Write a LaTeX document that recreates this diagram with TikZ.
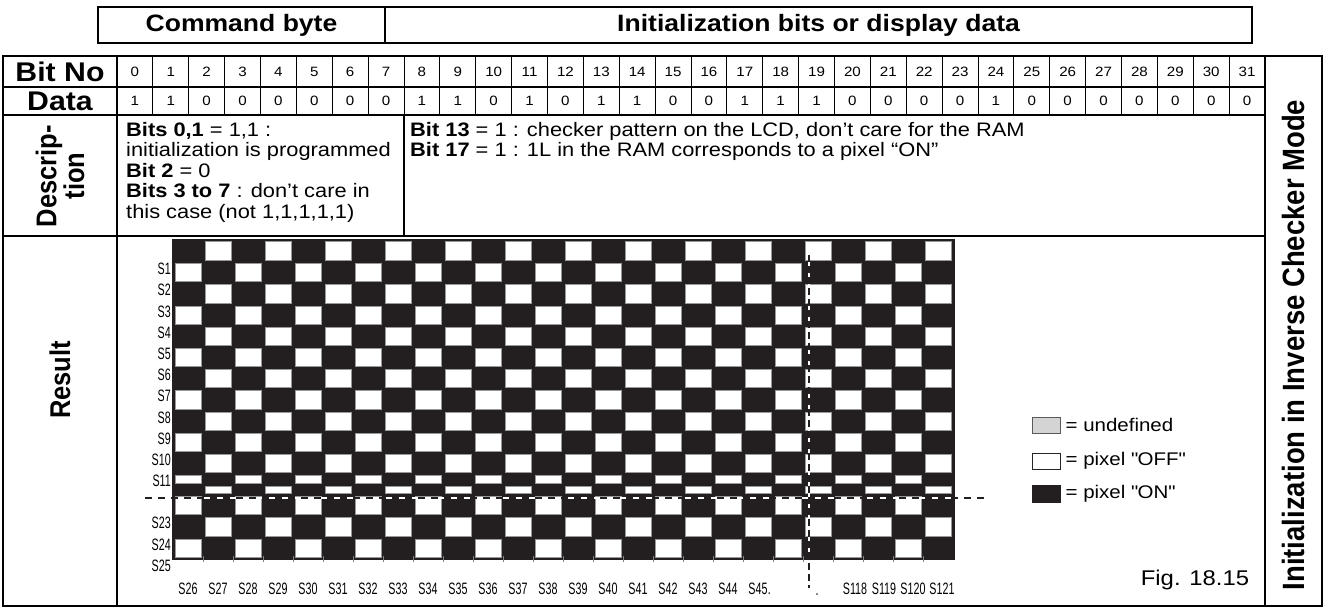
\documentclass[tikz,border=0pt]{standalone}
\usepackage{fontspec}
\setmainfont[FakeStretch=1.12]{Liberation Sans}
\newfontfamily\sidefont{Liberation Sans}
\newfontfamily\pinfont[FakeStretch=0.65]{Liberation Sans}
\usetikzlibrary{positioning}
\definecolor{pixon}{HTML}{231F20}
\definecolor{undefgray}{HTML}{D4D4D4}

\begin{document}
\begin{tikzpicture}[
        x=1pt, y=-1pt,
        thick rule/.style={line width=2.6pt},
        headbox/.style={rectangle, draw, line width=2.6pt, outer sep=0pt, minimum height=36pt, font=\fontsize{23.7}{26}\selectfont\bfseries},
        bitcell/.style={rectangle, draw, line width=0.9pt, outer sep=0pt, minimum width=35.875pt, inner sep=0pt, font=\fontsize{13.5}{14}\selectfont},
        rowhead/.style={inner sep=0pt, font=\fontsize{27}{30}\selectfont\bfseries},
        sidehead/.style={rotate=90, transform shape, align=center, inner sep=0pt, font=\sidefont\fontsize{25.5}{22}\selectfont\bfseries},
        desc/.style={anchor=north west, align=left, inner sep=0pt, font=\fontsize{19.5}{20.5}\selectfont},
        pinlabel/.style={inner sep=0pt, font=\pinfont\fontsize{16.5}{17}\selectfont},
        offpix/.style={fill=white, draw=gray!80, line width=0.6pt},
        legbox/.style={rectangle, minimum width=28pt, minimum height=16pt, inner sep=0pt, line width=0.8pt},
        legtext/.style={anchor=west, inner sep=0pt, font=\fontsize{18.3}{20}\selectfont}
      ]

      \useasboundingbox (0,0) rectangle (1327,608);

      \node[headbox, minimum width=287pt] (cmdbyte) at (241.5,25) {Command byte};
      \node[headbox, minimum width=867pt, right=0pt of cmdbyte] (initbits) {Initialization bits or display data};

      \foreach \v [count=\n from 0] in {1,1,0,0,0,0,0,0,1,1,0,1,0,1,1,0,0,1,1,1,0,0,0,0,1,0,0,0,0,0,0,0} {
        \node[bitcell, minimum height=31pt] (no\n) at ({117+35.875*(\n+0.5)},71.5) {\n};
        \node[bitcell, minimum height=28pt] (data\n) at ({117+35.875*(\n+0.5)},101) {\v};
      }

      \draw[thick rule] (3,56) rectangle (1322,606);
      \draw[line width=2pt] (3,87) -- (no31.south east);
      \draw[thick rule] (3,115) -- (data31.south east);
      \draw[thick rule] (3,236) -- (1265,236);
      \draw[thick rule] (117,56) -- (117,606);
      \draw[thick rule] (1265,56) -- (1265,606);
      \draw[line width=1.5pt] (data7.south east) -- (404,236);

      \node[rowhead] (bitno) at (60,71.5) {Bit No};
      \node[rowhead] (datahd) at (60,101) {Data};

      \begin{scope}[shift={(60,176)}, xscale=1.12]
        \node[sidehead] (descrip) at (0,0) {Descrip-\\tion};
      \end{scope}
      \begin{scope}[shift={(60,380)}, xscale=1.12]
        \node[sidehead] (result) at (0,0) {Result};
      \end{scope}
      \begin{scope}[shift={(1293.5,345)}, xscale=1.12]
        \node[sidehead, font=\sidefont\fontsize{27.5}{28}\selectfont\bfseries] (mode) at (0,0) {Initialization in Inverse Checker Mode};
      \end{scope}

      \node[desc] (desclow) at (126,122) {\textbf{Bits 0,1} = 1,1 :\\initialization is programmed\\\textbf{Bit 2} = 0\\\textbf{Bits 3 to 7} : don't care in\\this case (not 1,1,1,1,1)};
      \node[desc] (deschigh) at (410,122) {\textbf{Bit 13} = 1 : checker pattern on the LCD, don't care for the RAM\\\textbf{Bit 17} = 1 : 1L in the RAM corresponds to a pixel “ON”};

      \fill[pixon] (172,238.5) rectangle (955,560);
      \foreach \ri/\rtop/\rbot in {0/240/262, 1/262/283.2, 2/283.2/304.4, 3/304.4/325.6, 4/325.6/346.8, 5/346.8/368, 6/368/389.2, 7/389.2/410.4, 8/410.4/431.6, 9/431.6/452.8, 10/452.8/474, 11/474/484.5, 12/484.5/495, 13/495/516, 14/516/537.5, 15/537.5/559} {
        \foreach \c in {1,...,26} {
          \pgfmathtruncatemacro\odd{mod(\ri+\c,2)}
          \ifnum\odd=0
            \draw[offpix] ({145+30*\c},{\rtop+1.5}) rectangle ({171+30*\c},{\rbot-1.5});
          \fi
        }
      }
      \foreach \c in {1,...,25}
        \draw[gray, line width=0.6pt] ({173+30*\c},556) -- ({173+30*\c},562);

      \coordinate (hcut w) at (145,498);
      \coordinate (hcut e) at (988,498);
      \draw[white, line width=1.2pt] (173,498) -- (955,498);
      \draw[pixon, line width=2.2pt, dash pattern=on 7pt off 6pt] (hcut w) -- (hcut e);

      \coordinate (vcut n) at (809,255);
      \coordinate (vcut s) at (809,588);
      \draw[white, line width=2pt] (809,255) -- (809,559);
      \draw[pixon, line width=2pt, dash pattern=on 7pt off 4pt] (vcut n) -- (vcut s);

      \foreach \k/\yy in {1/262, 2/283.2, 3/304.4, 4/325.6, 5/346.8, 6/368, 7/389.2, 8/410.4, 9/431.6, 10/452.8, 11/474, 23/516, 24/537.5, 25/559}
        \node[pinlabel, anchor=east] (s\k) at (171,{\yy+7}) {S\k};
      \foreach \k in {26,...,45}
        \node[pinlabel] (s\k) at ({188+30*(\k-26)},589) {S\k};
      \node[pinlabel, anchor=base west] (s45dot) at (s45.base east) {.};
      \node[pinlabel, anchor=base] (gapdot) at (817,595) {.};
      \foreach \k/\xx in {118/855, 119/884, 120/913, 121/942}
        \node[pinlabel] (s\k) at (\xx,589) {S\k};

      \node[legbox, draw=gray!70!black, fill=undefgray] (undefbox) at (1046,425) {};
      \node[legtext, right=5pt of undefbox] (undeftext) {= undefined};
      \node[legbox, draw=black!85] (offbox) at (1046,461) {};
      \node[legtext, right=5pt of offbox] (offtext) {= pixel \textquotedbl OFF\textquotedbl};
      \node[legbox, draw=pixon, fill=pixon, minimum height=17pt] (onbox) at (1046,493.5) {};
      \node[legtext, right=5pt of onbox] (ontext) {= pixel \textquotedbl ON\textquotedbl};

      \node[inner sep=0pt, font=\fontsize{21.3}{22}\selectfont] (figno) at (1195,580) {Fig. 18.15};

    \end{tikzpicture}
\end{document}
